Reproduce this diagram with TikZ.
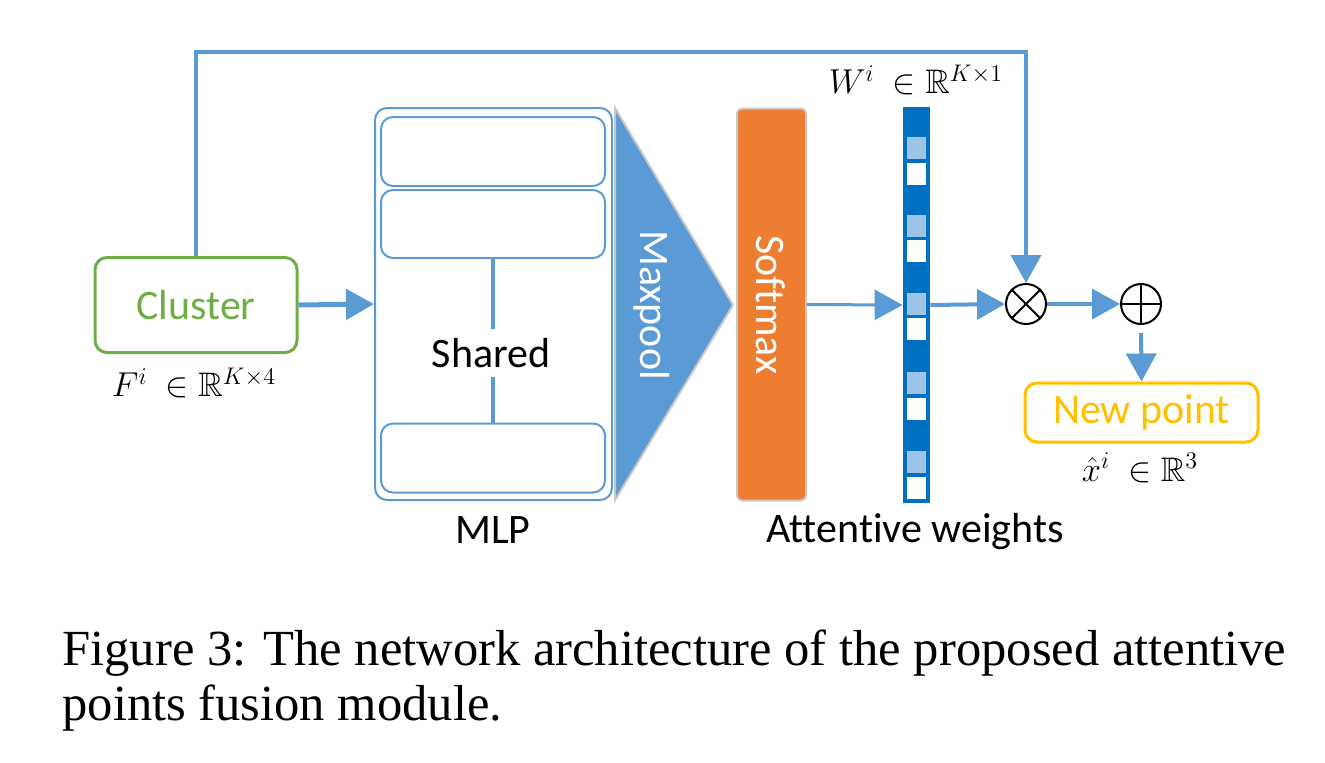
\documentclass[tikz,border=0pt]{standalone}
\usepackage{fontspec}
\usepackage{amssymb}
\setmainfont{Liberation Serif}
\newfontfamily\calib[Ligatures=NoCommon]{Carlito}
\usetikzlibrary{arrows.meta}
\definecolor{lblue}{HTML}{5B9BD5}
\definecolor{cgreen}{HTML}{70AD47}
\definecolor{corange}{HTML}{ED7D31}
\definecolor{cgold}{HTML}{FFC000}
\definecolor{dblue}{HTML}{0070C0}
\definecolor{cellblue}{HTML}{9DC3E6}
\definecolor{edgegray}{HTML}{C8C8C8}
\begin{document}
\begin{tikzpicture}[x=0.5pt,y=-0.5pt,
  sanstext/.style={font=\calib\fontsize{21}{25}\selectfont},
  mathlabel/.style={font=\fontsize{17}{20}\selectfont},
  arr/.style={draw=lblue,-{Triangle[length=14pt,width=15pt]}},
  box/.style={draw, rounded corners=6pt, inner sep=0pt},
  mlpbox/.style={box, draw=lblue, line width=1pt, minimum width=112pt},
  cell/.style={minimum width=9.5pt, minimum height=11pt, inner sep=0pt},
  opcirc/.style={circle, draw=black, line width=1pt, minimum size=20pt, inner sep=0pt}]
\useasboundingbox (0,0) rectangle (1325,762);

% Cluster
\node[box, draw=cgreen, line width=1.5pt, minimum width=101pt, minimum height=47.5pt,
      sanstext, text=cgreen] (cluster) at (196,305) {Cluster};
\node[mathlabel] (flabel) at (194,383) {$F^{i}\ \in \mathbb{R}^{K\times 4}$};

% MLP
\node[box, draw=lblue, line width=1pt, minimum width=118.5pt, minimum height=196pt] (mlp) at (493.5,304) {};
\node[mlpbox, minimum height=34.5pt] (b1) at (493,151.5) {};
\node[mlpbox, minimum height=34pt] (b2) at (493,224) {};
\node[mlpbox, minimum height=34.5pt] (b3) at (493,458) {};
\node[sanstext] (shared) at (491,353) {Shared};
\draw[lblue, line width=2pt] (b2.south) -- ++(0,70);
\draw[lblue, line width=2pt] (b3.north) -- ++(0,-46);
\node[sanstext] (mlplabel) at (493,530) {MLP};

% Maxpool
\fill[lblue, draw=edgegray, line width=1pt] (615,108) -- (733,305) -- (615,500) -- cycle;
\coordinate (maxtip) at (733,305);
\node[sanstext, text=white, rotate=-90] (maxpool) at (652,305) {Maxpool};

% Softmax
\node[draw=edgegray, fill=corange, line width=1pt, rounded corners=2.5pt,
      minimum width=34.5pt, minimum height=196pt, inner sep=0pt] (softmax) at (771.5,304.5) {};
\node[sanstext, text=white, rotate=-90] (softtext) at (771,305) {Softmax};

% Weight bar
\node[fill=dblue, minimum width=13.5pt, minimum height=198pt, inner sep=0pt] (bar) at (916.5,305) {};
\foreach \yl/\yw [count=\k] in {148/174, 226/251, 304/329, 383/409, 462/488}{
  \node[cell, fill=cellblue] (lc\k) at (916.5,\yl) {};
  \node[cell, fill=white] (wc\k) at (916.5,\yw) {};
}
\node[mathlabel] (wlabel) at (916,80) {$W^{i}\ \in \mathbb{R}^{K\times 1}$};
\node[sanstext] (attlabel) at (915,532) {Attentive weights};

% Operators
\node[opcirc] (otimes) at (1026,304) {};
\draw[line width=1pt] (otimes.north west) -- (otimes.south east)
                      (otimes.north east) -- (otimes.south west);
\node[opcirc] (oplus) at (1141,304) {};
\draw[line width=1pt] (oplus.north) -- (oplus.south)
                      (oplus.west) -- (oplus.east);

% New point
\node[box, draw=cgold, line width=1.5pt, minimum width=116.5pt, minimum height=29.5pt,
      sanstext, text=cgold] (newpoint) at (1141.5,412.5) {New point};
\node[mathlabel] (xlabel) at (1140,468) {$\hat{x}^{i}\ \in \mathbb{R}^{3}$};

% Connectors
\draw[arr, line width=2.5pt] (cluster.east) -- (mlp.west);
\draw[arr, line width=2pt] (cluster.north) -- ++(0,-204) -| (otimes.north);
\draw[arr, line width=1.5pt] (softmax.east) -- (bar.west);
\draw[arr, line width=2pt] (bar.east) -- (otimes.west);
\draw[arr, line width=2pt] (otimes.east) -- (oplus.west);
\draw[arr, line width=2pt, shorten <=4pt] (oplus.south) -- (newpoint.north);

% Caption
\node[anchor=base west, inner sep=0pt, font=\fontsize{25.3}{28}\selectfont] (cap1) at (62,665)
  {Figure 3: The network architecture of the proposed attentive};
\node[anchor=base west, inner sep=0pt, font=\fontsize{25.3}{28}\selectfont] (cap2) at (62,720)
  {points fusion module.};
\end{tikzpicture}
\end{document}
